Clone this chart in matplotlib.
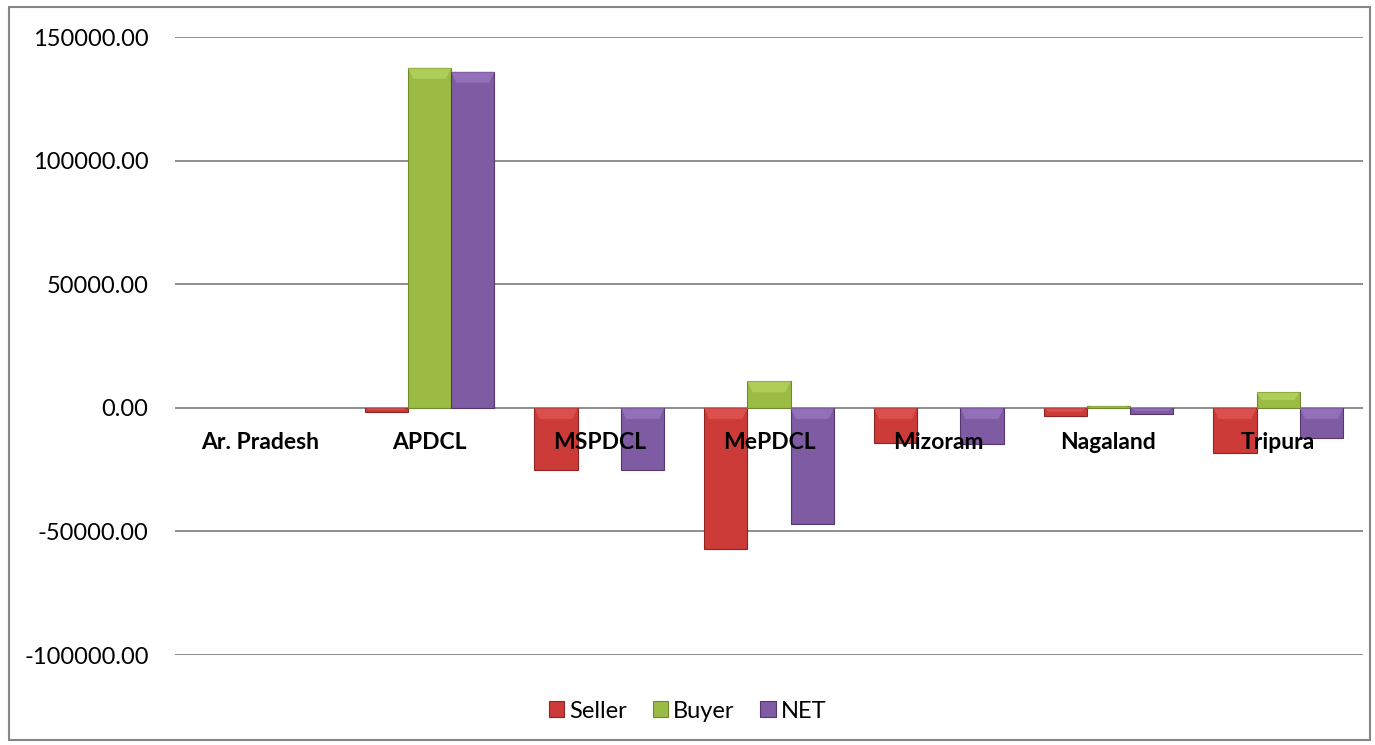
import matplotlib
matplotlib.use("Agg")
import matplotlib.pyplot as plt
from matplotlib.patches import Rectangle, Polygon
import numpy as np

plt.rcParams['font.family'] = ['Lato', 'DejaVu Sans']

# ==============================
# data
# ==============================
categories = ["Ar. Pradesh", "APDCL", "MSPDCL", "MePDCL", "Mizoram", "Nagaland", "Tripura"]
seller = [0, -1750, -25300, -57300, -14200, -3200, -18300]
buyer = [0, 137600, 0, 10800, 0, 800, 6300]
net = [0, 136000, -25000, -46900, -14700, -2400, -12200]

series = [("Seller", seller, "#CC3B38", "#8E2522", "#E8625E"),
          ("Buyer", buyer, "#9BBB45", "#6E8A2A", "#BEDC6A"),
          ("NET", net, "#7E5BA3", "#52386F", "#A583CC")]

fig = plt.figure(figsize=(13.75, 7.45), dpi=100)
ax = fig.add_axes([175 / 1375, 1 - 655 / 745, (1363 - 175) / 1375, (655 - 37) / 745])

x = np.arange(len(categories))
width = 0.255

for k, (name, vals, col, edge, light) in enumerate(series):
    bars = ax.bar(x + (k - 1) * width, vals, width, color=col, edgecolor=edge,
                  linewidth=0.8, zorder=3)
    # simple bevel: lighter strip at the end away from zero
    for b, v in zip(bars, vals):
        if v == 0:
            b.set_visible(False)
            continue
        x0, w = b.get_x(), b.get_width()
        h = abs(v)
        bev = min(h * 0.5, 4500)
        inset = w * 0.12
        top = v if v > 0 else 0
        pts = [(x0, top), (x0 + w, top), (x0 + w - inset, top - bev), (x0 + inset, top - bev)]
        ax.add_patch(Polygon(pts, closed=True, facecolor=light, edgecolor='none',
                             alpha=0.55, zorder=4))

ax.set_xlim(-0.5, len(categories) - 0.5)
ax.set_ylim(-100000, 150000)
ax.set_yticks(np.arange(-100000, 150001, 50000))
ax.yaxis.set_major_formatter(matplotlib.ticker.FormatStrFormatter('%.2f'))
ax.tick_params(axis='y', length=0, pad=19, labelsize=17)
ax.set_xticks([])
ax.grid(axis='y', color='#868686', linewidth=1.3, zorder=1)
for s in ax.spines.values():
    s.set_visible(False)

for i, c in enumerate(categories):
    ax.annotate(c, (i, 0), xytext=(0, -25), textcoords='offset points',
                ha='center', va='center', fontsize=16.5, fontweight='bold', zorder=6)

handles = [Rectangle((0, 0), 1, 1, facecolor=col, edgecolor=edge, linewidth=0.8)
           for _, _, col, edge, _ in series]
fig.legend(handles, [s[0] for s in series], loc='center', bbox_to_anchor=(0.5, 1 - 711 / 745),
           ncol=3, frameon=False, fontsize=17, handlelength=0.65, handleheight=0.65,
           handletextpad=0.2, columnspacing=1.1)

fig.patches.append(Rectangle((9 / 1375, 5 / 745), 1361 / 1375, 733 / 745, transform=fig.transFigure,
                             fill=False, edgecolor='#868686', linewidth=1.5))

fig.savefig("out.png", dpi=100)
plt.close(fig)
